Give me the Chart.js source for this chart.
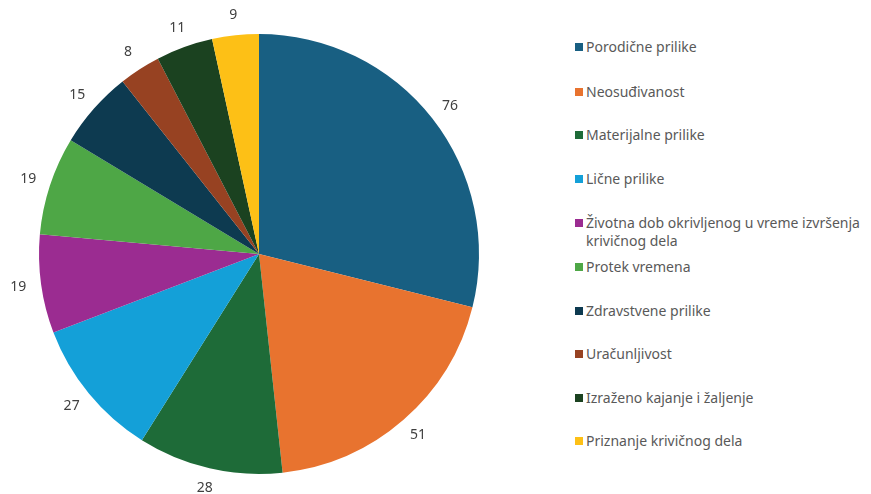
<!DOCTYPE html>
<html>
<head>
<meta charset="utf-8">
<script src="https://cdn.jsdelivr.net/npm/chart.js@4/dist/chart.umd.min.js"></script>
<style>
  html, body { margin: 0; padding: 0; background: #fff; }
  #wrap { position: relative; width: 871px; height: 494px; }
  #pie { position: absolute; left: 0; top: 0; }
  #legend { position: absolute; left: 575px; top: 0; width: 296px;
    font-family: 'Noto Sans', sans-serif; font-size: 14px; color: #595959; }
  .item { position: absolute; left: 0; line-height: 18px; padding-left: 11px; white-space: nowrap; }
  .item span.box { position: absolute; left: 0; top: 5px; width: 8px; height: 8px; }
</style>
</head>
<body>
<div id="wrap">
  <canvas id="pie" width="518" height="494"></canvas>
  <div id="legend"></div>
</div>
<script>
// ---- data ----
const labels = [
  'Porodične prilike',
  'Neosuđivanost',
  'Materijalne prilike',
  'Lične prilike',
  ['Životna dob okrivljenog u vreme izvršenja', 'krivičnog dela'],
  'Protek vremena',
  'Zdravstvene prilike',
  'Uračunljivost',
  'Izraženo kajanje i žaljenje',
  'Priznanje krivičnog dela'
];
const values = [76, 51, 28, 27, 19, 19, 15, 8, 11, 9];
const colors = ['#185f82', '#e8732f', '#1e6b38', '#14a0d8', '#9b2c91',
                '#4ea746', '#0d3a50', '#974222', '#1b4220', '#fdc016'];
const legendTops = [38, 83, 126, 170, 214, 258, 302, 345, 389, 432];

// value labels outside the slices
const outsideLabels = {
  id: 'outsideLabels',
  afterDatasetsDraw(chart) {
    const ctx = chart.ctx;
    const meta = chart.getDatasetMeta(0);
    ctx.save();
    ctx.font = '14px "Noto Sans", sans-serif';
    ctx.fillStyle = '#404040';
    ctx.textAlign = 'center';
    ctx.textBaseline = 'middle';
    meta.data.forEach((arc, i) => {
      const p = arc.getProps(['x', 'y', 'startAngle', 'endAngle', 'outerRadius'], true);
      const mid = (p.startAngle + p.endAngle) / 2;
      const r = p.outerRadius + 20;
      ctx.fillText(values[i], p.x + Math.cos(mid) * (r + 3 * Math.abs(Math.sin(mid + Math.PI / 2))),
                   p.y + Math.sin(mid) * r);
    });
    ctx.restore();
  }
};

new Chart(document.getElementById('pie').getContext('2d'), {
  type: 'pie',
  data: {
    labels,
    datasets: [{
      data: values,
      backgroundColor: colors,
      borderWidth: 0
    }]
  },
  options: {
    responsive: false,
    animation: false,
    layout: { padding: { top: 34, bottom: 20, left: 0, right: 0 } },
    plugins: { legend: { display: false }, tooltip: { enabled: false } }
  },
  plugins: [outsideLabels]
});

// html legend built from the arrays
const legendEl = document.getElementById('legend');
labels.forEach((lab, i) => {
  const d = document.createElement('div');
  d.className = 'item';
  d.style.top = legendTops[i] + 'px';
  const box = document.createElement('span');
  box.className = 'box';
  box.style.background = colors[i];
  d.appendChild(box);
  const txt = Array.isArray(lab) ? lab.join('<br>') : lab;
  d.insertAdjacentHTML('beforeend', txt);
  legendEl.appendChild(d);
});
</script>
</body>
</html>
